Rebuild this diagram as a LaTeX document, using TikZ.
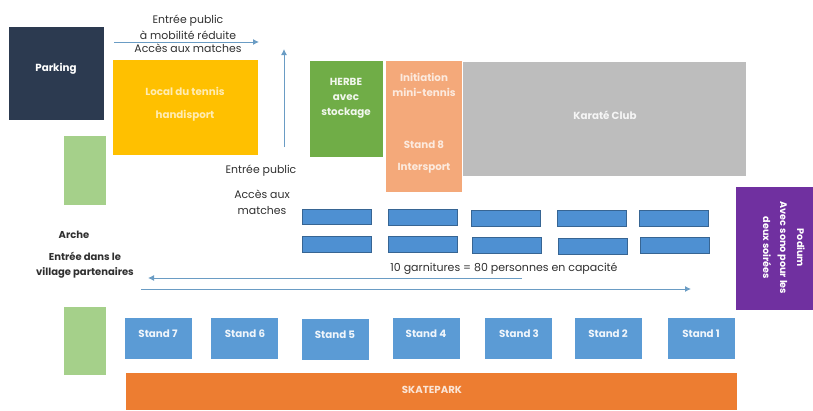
\documentclass[tikz,border=0pt]{standalone}
\usepackage{fontspec}
\setmainfont{Poppins}
\usetikzlibrary{arrows.meta}
\definecolor{navy}{HTML}{2C3A50}
\definecolor{amber}{HTML}{FFC000}
\definecolor{lightgreen}{HTML}{A5D08A}
\definecolor{grass}{HTML}{70AD47}
\definecolor{peach}{HTML}{F4A97A}
\definecolor{silver}{HTML}{BDBDBD}
\definecolor{violet2}{HTML}{7030A0}
\definecolor{standblue}{HTML}{5B9BD5}
\definecolor{tableblue}{HTML}{4E90D2}
\definecolor{skate}{HTML}{ED7D31}
\definecolor{flow}{HTML}{6A9CC4}
\definecolor{ink}{HTML}{303030}
\tikzset{
  x=1pt,y=-1pt,
  zone/.style={draw=none,inner sep=0pt,anchor=north west},
  stall/.style={zone,fill=standblue,minimum width=67pt,minimum height=41pt},
  bench/.style={zone,fill=tableblue,draw=tableblue!70!black,line width=.5pt,minimum width=68.5pt,minimum height=15.5pt},
  inlabel/.style={font=\fontsize{10.3}{15}\selectfont\bfseries,text=white,inner sep=0pt,align=center},
  outlabel/.style={font=\fontsize{10.9}{13}\selectfont,text=ink,inner sep=0pt,align=center},
  flowline/.style={draw=flow,line width=1pt,-{Latex[length=6pt,width=6pt]}}
}
\begin{document}
\begin{tikzpicture}
\useasboundingbox (0,0) rectangle (813,410);
% zones
\node[zone,fill=navy,minimum width=95pt,minimum height=93pt] (parking) at (9,27) {};
\node[zone,fill=amber,minimum width=145pt,minimum height=95pt] (local) at (113,60) {};
\node[zone,fill=lightgreen,minimum width=42pt,minimum height=69pt] (archeA) at (64,136) {};
\node[zone,fill=lightgreen,minimum width=42pt,minimum height=68pt] (archeB) at (64,307) {};
\node[zone,fill=grass,minimum width=73pt,minimum height=96pt] (herbe) at (310,61) {};
\node[zone,fill=peach,minimum width=76pt,minimum height=131pt] (initiation) at (386,61) {};
\node[zone,fill=silver,minimum width=283pt,minimum height=114pt] (karate) at (463,62) {};
\node[zone,fill=violet2,minimum width=77pt,minimum height=123pt] (podium) at (736,187) {};
\node[zone,fill=skate,minimum width=611pt,minimum height=37pt] (skatepark) at (126,373) {};
% benches
\node[bench] (b1) at (302,208.5) {};
\node[bench] (b2) at (388,209) {};
\node[bench] (b3) at (471,210) {};
\node[bench] (b4) at (557,210) {};
\node[bench] (b5) at (639,210) {};
\node[bench] (b6) at (302,236) {};
\node[bench] (b7) at (388,236) {};
\node[bench] (b8) at (472,237) {};
\node[bench] (b9) at (558,238) {};
\node[bench] (b10) at (640,237) {};
% stands
\node[stall] (s7) at (125,318) {};
\node[stall] (s6) at (211,318) {};
\node[stall] (s5) at (302,319) {};
\node[stall] (s4) at (393,318) {};
\node[stall] (s3) at (485,318) {};
\node[stall] (s2) at (575,318) {};
\node[stall] (s1) at (668,318) {};
% labels in zones
\node[inlabel] (tparking) at (56,69) {Parking};
\node[inlabel,text=white!70!amber] (tlocal1) at (185,91) {Local du tennis};
\node[inlabel,text=white!70!amber] (tlocal2) at (185,116) {handisport};
\node[inlabel,text=white!90!grass] (therbe) at (346,98) {HERBE\\avec\\stockage};
\node[inlabel,text=white!75!peach] (tinit) at (424,84.5) {Initiation\\mini-tennis};
\node[inlabel,text=white!75!peach] (tstand8) at (424,145) {Stand 8};
\node[inlabel,text=white!75!peach] (tinter) at (424,168) {Intersport};
\node[inlabel,text=white!85!silver] (tkarate) at (605,115) {Karaté Club};
\node[inlabel,rotate=-90,font=\fontsize{9.6}{17}\selectfont\bfseries] (tpodium) at (784,248) {Podium\\Avec sono pour les\\deux soirées};
\node[inlabel,font=\fontsize{10.2}{12}\selectfont\bfseries,text=white!80!skate] (tskate) at (432,390) {SKATEPARK};
\node[inlabel,text=white!90!standblue] (t7) at (158,334) {Stand 7};
\node[inlabel,text=white!90!standblue] (t6) at (245,334) {Stand 6};
\node[inlabel,text=white!90!standblue] (t5) at (335,335) {Stand 5};
\node[inlabel,text=white!90!standblue] (t4) at (426,334) {Stand 4};
\node[inlabel,text=white!90!standblue] (t3) at (519,334) {Stand 3};
\node[inlabel,text=white!90!standblue] (t2) at (608,334) {Stand 2};
\node[inlabel,text=white!90!standblue] (t1) at (701,334) {Stand 1};
% outside labels
\node[outlabel,font=\fontsize{10.9}{14.5}\selectfont] (tpmr) at (188,33.5) {Entrée public\\[1.5pt]à mobilité réduite\\[-1.5pt]Accès aux matches};
\node[outlabel] (tpub) at (261,171) {Entrée public};
\node[outlabel,font=\fontsize{10.9}{16}\selectfont] (tacc) at (262,202) {Accès aux\\matches};
\node[outlabel,font=\fontsize{10}{11}\selectfont\bfseries] (tarche) at (74,235) {Arche};
\node[outlabel,font=\fontsize{10}{15}\selectfont\bfseries] (tvillage) at (85,265.5) {Entrée dans le\\village partenaires};
\node[outlabel,font=\fontsize{11}{13}\selectfont] (tgarn) at (504,269) {10 garnitures = 80 personnes en capacité};
% arrows
\coordinate (a1s) at (114,42); \coordinate (a1e) at (259,42);
\coordinate (a2s) at (284,147); \coordinate (a2e) at (284,49);
\coordinate (a3s) at (522,278); \coordinate (a3e) at (148,278);
\coordinate (a4s) at (141,289); \coordinate (a4e) at (691,289);
\draw[flowline] (a1s) -- (a1e);
\draw[flowline] (a2s) -- (a2e);
\draw[flowline] (a3s) -- (a3e);
\draw[flowline] (a4s) -- (a4e);
\end{tikzpicture}
\end{document}
